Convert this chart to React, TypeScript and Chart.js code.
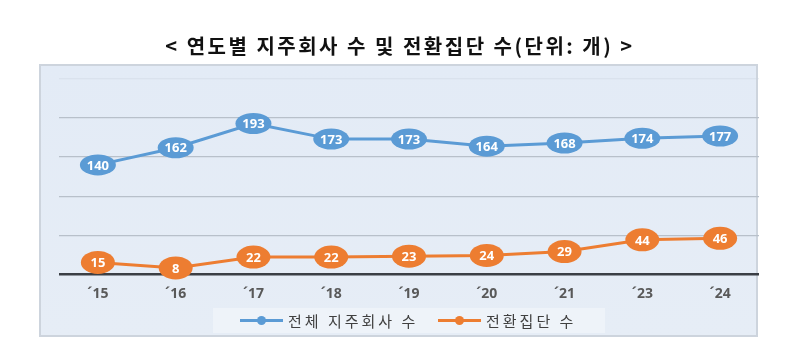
import React, { useEffect, useRef } from "react";
import { Chart, registerables } from "chart.js";
Chart.register(...registerables);

const categories = ["´15", "´16", "´17", "´18", "´19", "´20", "´21", "´23", "´24"];
const holdingCompanies = [140, 162, 193, 173, 173, 164, 168, 174, 177];
const convertedGroups = [15, 8, 22, 22, 23, 24, 29, 44, 46];
const seriesNames = ["전체 지주회사 수", "전환집단 수"];
const titleText = "< 연도별 지주회사 수 및 전환집단 수(단위: 개) >";

const BLUE = "#5b9bd5";
const ORANGE = "#ed7d31";
const KR = "'Noto Sans CJK KR', 'Noto Sans', sans-serif";

const bgPlugin = {
  id: "bgBox",
  beforeDraw(chart: any) {
    const ctx = chart.ctx;
    ctx.save();
    const g = ctx.createLinearGradient(0, 65, 0, 336);
    g.addColorStop(0, "#e3ebf6");
    g.addColorStop(1, "#e6edf6");
    ctx.fillStyle = g;
    ctx.fillRect(40, 65, 717, 271);
    ctx.strokeStyle = "#cdd4dd";
    ctx.lineWidth = 2;
    ctx.strokeRect(40, 65, 717, 271);
    ctx.fillStyle = "#eef3f9";
    ctx.fillRect(213, 308, 392, 25);
    ctx.restore();
  },
};

const bubblePlugin = {
  id: "bubbles",
  afterDatasetsDraw(chart: any) {
    const ctx = chart.ctx;
    ctx.save();
    chart.data.datasets.forEach((ds: any, i: number) => {
      const meta = chart.getDatasetMeta(i);
      const rx = i === 0 ? 18 : 17;
      const ry = i === 0 ? 10.5 : 11.5;
      meta.data.forEach((pt: any, j: number) => {
        ctx.beginPath();
        ctx.ellipse(pt.x, pt.y, rx, ry, 0, 0, Math.PI * 2);
        ctx.fillStyle = ds.borderColor;
        ctx.fill();
        ctx.fillStyle = "#ffffff";
        ctx.font = "bold 13px 'Noto Sans', sans-serif";
        ctx.textAlign = "center";
        ctx.textBaseline = "middle";
        ctx.fillText(String(ds.data[j]), pt.x, pt.y + 1);
      });
    });
    ctx.restore();
  },
};

export default function App() {
  const ref = useRef<HTMLCanvasElement | null>(null);
  useEffect(() => {
    if (!ref.current) return;
    const chart = new Chart(ref.current, {
      type: "line",
      data: {
        labels: categories,
        datasets: [
          { label: seriesNames[0], data: holdingCompanies, borderColor: BLUE, backgroundColor: BLUE, borderWidth: 3, pointRadius: 0 },
          { label: seriesNames[1], data: convertedGroups, borderColor: ORANGE, backgroundColor: ORANGE, borderWidth: 3, pointRadius: 0 },
        ],
      },
      options: {
        responsive: false,
        animation: false,
        layout: { padding: { left: 59, right: 41, top: 79, bottom: 56 } },
        plugins: { legend: { display: false }, title: { display: false }, tooltip: { enabled: false } },
        scales: {
          x: {
            offset: true,
            grid: { display: false },
            border: { display: false },
            ticks: { color: "#595959", maxRotation: 0, autoSkip: false, font: { family: "'Noto Sans', sans-serif", size: 14, weight: "bold" }, padding: 3 },
          },
          y: {
            min: 0,
            max: 250,
            ticks: { display: false, stepSize: 50 },
            border: { display: false },
            grid: {
              drawTicks: false,
              color: (c: any) => (c.tick && c.tick.value === 0 ? "#3b3f45" : c.tick && c.tick.value === 250 ? "rgba(200,210,222,0.35)" : "#b8c0ca"),
              lineWidth: (c: any) => (c.tick && c.tick.value === 0 ? 2.5 : 1.2),
            },
            afterFit: (s: any) => { s.width = 0; },
          },
        },
      },
      plugins: [bgPlugin, bubblePlugin],
    });
    return () => chart.destroy();
  }, []);

  const legendItem = (color: string, text: string, left: number) => (
    <div style={{ position: "absolute", left, top: 308, height: 25, display: "flex", alignItems: "center" }}>
      <div style={{ position: "relative", width: 43, height: 3, background: color }}>
        <div style={{ position: "absolute", left: 17, top: -3, width: 9, height: 9, borderRadius: "50%", background: color }} />
      </div>
      <span style={{ marginLeft: 5, fontFamily: KR, fontSize: 15, color: "#404040", letterSpacing: 3 }}>{text}</span>
    </div>
  );

  return (
    <div style={{ position: "absolute", left: 0, top: 0, width: 800, height: 361, background: "#fff", overflow: "hidden" }}>
      <canvas ref={ref} width={800} height={361} style={{ position: "absolute", left: 0, top: 0 }} />
      <div style={{ position: "absolute", left: 0, top: 31, width: 800, textAlign: "center", fontFamily: KR, fontWeight: 700, fontSize: 20, color: "#111", letterSpacing: 2.5, whiteSpace: "pre" }}>
        {titleText}
      </div>
      {legendItem(BLUE, seriesNames[0], 240)}
      {legendItem(ORANGE, seriesNames[1], 438)}
    </div>
  );
}
